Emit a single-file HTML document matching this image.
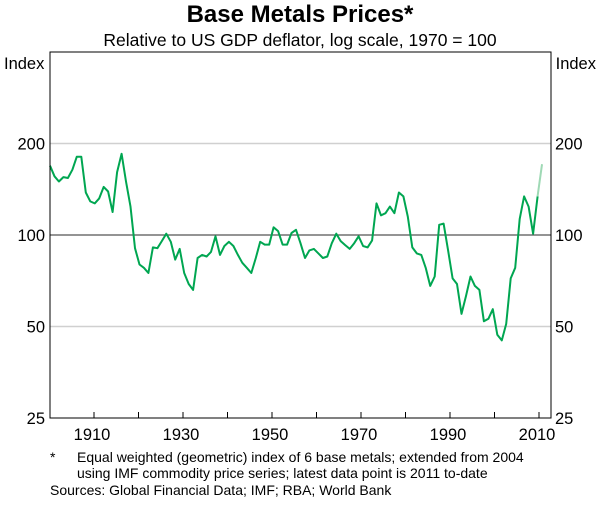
<!DOCTYPE html>
<html><head><meta charset="utf-8"><style>
body{margin:0;background:#fff;font-family:"Liberation Sans",Arial,sans-serif}
svg text{font-family:"Liberation Sans",Arial,sans-serif;fill:#000}
</style></head><body>
<svg width="600" height="502" xmlns="http://www.w3.org/2000/svg">
<text x="300" y="22" text-anchor="middle" font-size="24" font-weight="bold">Base Metals Prices*</text>
<text x="300" y="46" text-anchor="middle" font-size="17.5">Relative to US GDP deflator, log scale, 1970 = 100</text>
<text x="4" y="69" font-size="16.5">Index</text>
<text x="596" y="69" text-anchor="end" font-size="16.5">Index</text>
<g id="grid"></g>
<g id="plot"></g>
<rect x="50" y="52" width="501" height="366" fill="none" stroke="#000" stroke-width="1"/>
<g id="labels"></g>
<text x="50" y="462" font-size="14">*</text>
<text x="77" y="462" font-size="14">Equal weighted (geometric) index of 6 base metals; extended from 2004</text>
<text x="77" y="478" font-size="14">using IMF commodity price series; latest data point is 2011 to-date</text>
<text x="50" y="495" font-size="14">Sources: Global Financial Data; IMF; RBA; World Bank</text>
</svg>
<script>
const startYear = 1901;
const values = [169,156,150,155,154,164,181,181,138,129,127,132,144,139,119,161,185,150,124,90.5,
80,78,75,91,90.5,95.5,101,95,83,90,75,69,66,84,86,85,88,99,86,92,
95,92,86,81,78,75,84,95,93,93,106,103,93,93,101.5,104,94,84,89,90,
87,84,85,94,101,95.5,92.6,90,94,99,92,91,96,127,116,118,124,118,138,134,
115,91,87,86,78,68,73,108,109,89,72,69,55,63,73,68,66,52,53,57,
47,45,51,72,78,113,134,124,101,134];
const latestYear = 2011;
const latestValue = 171;
const yTicks = [25,50,100,200];
const xTicks = [1910,1930,1950,1970,1990,2010];
const NS="http://www.w3.org/2000/svg";
const L=50,R=551,T=52,B=418;
function xs(yr){return 94+(yr-1910)*4.45;}
function dx(yr){return 50+(yr-1901)*4.473;}
function ys(v){return B-(Math.log2(v/25))*(B-T)/4;}
function mk(tag,attrs,parent){const e=document.createElementNS(NS,tag);for(const k in attrs)e.setAttribute(k,attrs[k]);parent.appendChild(e);return e;}
const grid=document.getElementById('grid'),plot=document.getElementById('plot'),lab=document.getElementById('labels');
yTicks.forEach(v=>{
  const y=ys(v);
  if(v!==25){
    const l=mk('line',{x1:L,x2:R,y1:y,y2:y,stroke:v===100?'#555':'#d0d0d0','stroke-width':v===100?1.2:1.5},grid);
    
    
  }
  const t1=mk('text',{x:45,y:y+6,'text-anchor':'end','font-size':16.5},lab);t1.textContent=v;
  
  
  const t2=mk('text',{x:555,y:y+6,'font-size':16.5},lab);t2.textContent=v;
  
  
});
for(let yr=1910;yr<=2010;yr+=10){
  const x=xs(yr);
  const tk=mk('line',{x1:x,x2:x,y1:B,y2:B-6,stroke:'#000'},grid);
  
  
}
xTicks.forEach(yr=>{
  const t=mk('text',{x:xs(yr)-2,y:440,'text-anchor':'middle','font-size':16.5},lab);t.textContent=yr;
  
  
});
const pts=values.map((v,i)=>dx(startYear+i).toFixed(1)+','+ys(v).toFixed(1)).join(' ');
const pl=mk('polyline',{points:pts,fill:'none',stroke:'#00a651','stroke-width':2,'stroke-linejoin':'round'},plot);


const lastYear=startYear+values.length-1;
const ext=mk('line',{x1:dx(lastYear),y1:ys(values[values.length-1]),x2:dx(latestYear),y2:ys(latestValue),stroke:'#9fd9b5','stroke-width':2},plot);


</script>
</body></html>
